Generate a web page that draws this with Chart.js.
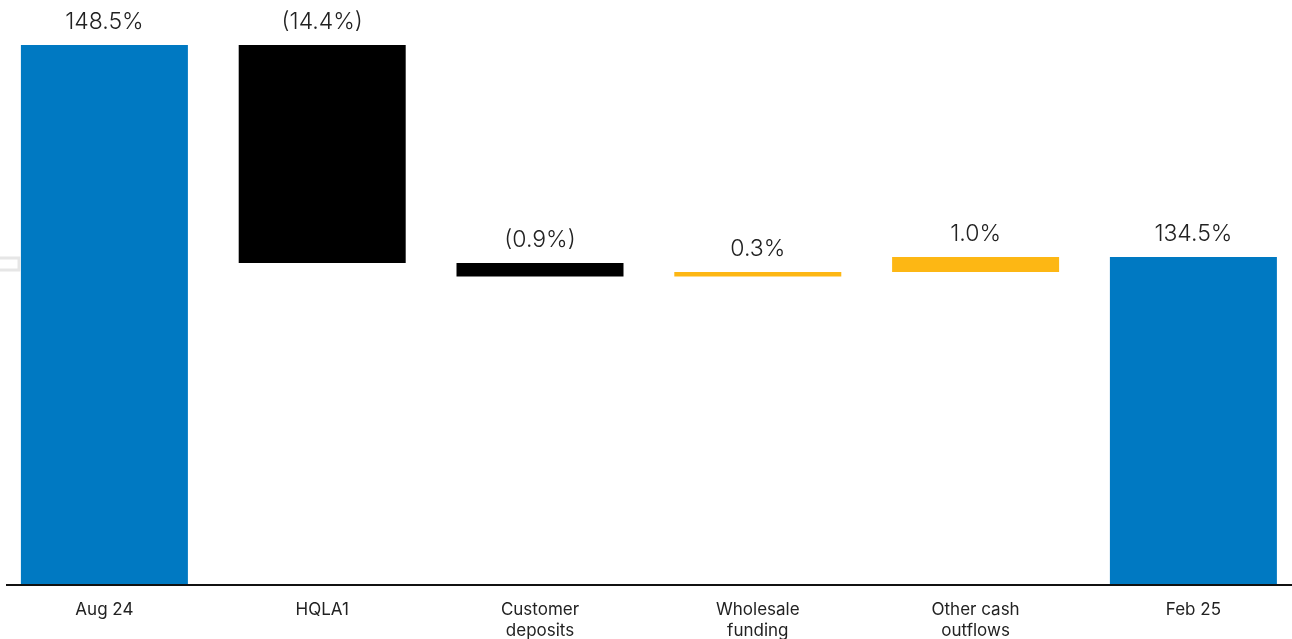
<!DOCTYPE html>
<html>
<head>
<meta charset="utf-8">
<script src="https://cdn.jsdelivr.net/npm/chart.js@4.4.1/dist/chart.umd.min.js"></script>
<style>
  html, body { margin: 0; padding: 0; background: #fff; overflow: hidden; }
  #wrap { position: absolute; left: -10px; top: 0; width: 1320px; height: 639px; }
</style>
</head>
<body>
<div id="wrap"><canvas id="chart"></canvas></div>
<script>
// Data
const categories = ['Aug 24', 'HQLA1', ['Customer', 'deposits'], ['Wholesale', 'funding'], ['Other cash', 'outflows'], 'Feb 25'];
const startValue = 148.5;
const deltas = [-14.4, -0.9, 0.3, 1.0];
const endValue = 134.5;
const valueLabels = ['148.5%', '(14.4%)', '(0.9%)', '0.3%', '1.0%', '134.5%'];

const BLUE = '#0079c2';
const BLACK = '#000000';
const YELLOW = '#fdb714';
const AXIS_MIN = 112.83;

// build floating bars for the waterfall
const bars = [[AXIS_MIN, startValue]];
const colors = [BLUE];
let running = startValue;
deltas.forEach(d => {
  const next = +(running + d).toFixed(2);
  bars.push([Math.min(running, next), Math.max(running, next)]);
  colors.push(d < 0 ? BLACK : YELLOW);
  running = next;
});
bars.push([AXIS_MIN, endValue]);
colors.push(BLUE);

const labelFont = "300 23px Inter, 'Liberation Sans', sans-serif";

const decorPlugin = {
  id: 'decor',
  afterDatasetsDraw(chart) {
    const { ctx, chartArea } = chart;
    const meta = chart.getDatasetMeta(0);
    ctx.save();
    // value labels
    ctx.font = labelFont;
    ctx.fillStyle = '#222';
    ctx.textAlign = 'center';
    ctx.textBaseline = 'middle';
    meta.data.forEach((bar, i) => {
      const top = Math.min(bar.y, bar.base);
      ctx.fillText(valueLabels[i], bar.x, top - 23);
    });
    // baseline
    ctx.strokeStyle = '#111';
    ctx.lineWidth = 2;
    ctx.beginPath();
    ctx.moveTo(16, chartArea.bottom);
    ctx.lineTo(1302, chartArea.bottom);
    ctx.stroke();
    // faint marker at left edge
    ctx.strokeStyle = '#e6e6e6';
    ctx.lineWidth = 3;
    ctx.strokeRect(1, 258, 28, 12);
    ctx.restore();
  }
};

new Chart(document.getElementById('chart'), {
  type: 'bar',
  data: {
    labels: categories,
    datasets: [{
      data: bars,
      backgroundColor: colors,
      borderWidth: 0,
      borderSkipped: false,
      categoryPercentage: 1,
      barPercentage: 167 / 217.8
    }]
  },
  options: {
    responsive: true,
    maintainAspectRatio: false,
    animation: false,
    layout: { padding: { left: 5.5, right: 7.7, top: 0, bottom: 0 } },
    plugins: {
      legend: { display: false },
      tooltip: { enabled: false }
    },
    scales: {
      x: {
        grid: { display: false, drawTicks: false },
        border: { display: false },
        ticks: {
          color: '#222',
          padding: 15,
          font: { family: "Inter, 'Liberation Sans', sans-serif", size: 17, lineHeight: 1.22 },
          maxRotation: 0,
          autoSkip: false
        },
        afterFit(scale) { scale.height = 54; }
      },
      y: {
        display: false,
        min: AXIS_MIN,
        max: 151.47
      }
    }
  },
  plugins: [decorPlugin]
});
</script>
</body>
</html>
